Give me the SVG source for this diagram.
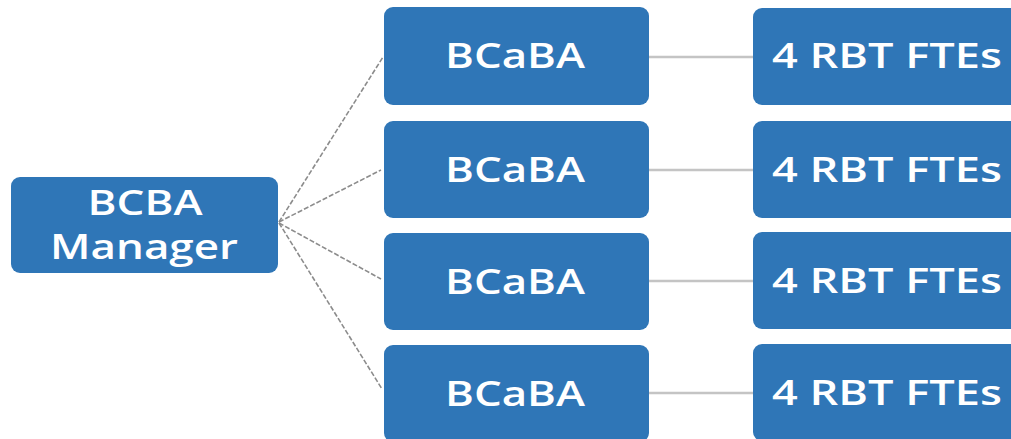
<svg xmlns="http://www.w3.org/2000/svg" width="1011" height="439" viewBox="0 0 1011 439">
<style>
.box{fill:#2F76B7;}
.t{font-family:"Open Sans","Liberation Sans",sans-serif;font-size:35px;font-weight:600;fill:#ffffff;text-anchor:middle;}
.dash{stroke:#8c8c8c;stroke-width:1.6;stroke-dasharray:5 2;fill:none;}
.solid{stroke:#c4c4c4;stroke-width:2.5;fill:none;}
</style>
<rect width="1011" height="439" fill="#ffffff"/>
<g id="connectors">
<line class="dash" x1="279" y1="222" x2="383" y2="57"/>
<line class="dash" x1="279" y1="222" x2="381" y2="170"/>
<line class="dash" x1="279" y1="223" x2="381" y2="279"/>
<line class="dash" x1="279" y1="223" x2="382" y2="389"/>
<line class="solid" x1="649" y1="57" x2="753" y2="57"/>
<line class="solid" x1="649" y1="170" x2="753" y2="170"/>
<line class="solid" x1="649" y1="281" x2="753" y2="281"/>
<line class="solid" x1="649" y1="393" x2="753" y2="393"/>
</g>
<g id="manager">
<rect class="box" x="11" y="177" width="267" height="96" rx="9"/>
<text class="t" x="145" y="215" textLength="115" lengthAdjust="spacingAndGlyphs">BCBA</text>
<text class="t" x="144" y="259" textLength="188" lengthAdjust="spacingAndGlyphs">Manager</text>
</g>
<g id="bcaba1">
<rect class="box" x="384" y="7" width="265" height="98" rx="9"/>
<text class="t" x="515" y="68" textLength="140" lengthAdjust="spacingAndGlyphs">BCaBA</text>
</g>
<g id="bcaba2">
<rect class="box" x="384" y="121" width="265" height="97" rx="9"/>
<text class="t" x="515" y="182" textLength="140" lengthAdjust="spacingAndGlyphs">BCaBA</text>
</g>
<g id="bcaba3">
<rect class="box" x="384" y="233" width="265" height="97" rx="9"/>
<text class="t" x="515" y="294" textLength="140" lengthAdjust="spacingAndGlyphs">BCaBA</text>
</g>
<g id="bcaba4">
<rect class="box" x="384" y="345" width="265" height="97" rx="9"/>
<text class="t" x="515" y="406" textLength="140" lengthAdjust="spacingAndGlyphs">BCaBA</text>
</g>
<g id="rbt1">
<rect class="box" x="753" y="8" width="268" height="97" rx="9"/>
<text class="t" x="887" y="68" textLength="230" lengthAdjust="spacingAndGlyphs">4 RBT FTEs</text>
</g>
<g id="rbt2">
<rect class="box" x="753" y="121" width="268" height="97" rx="9"/>
<text class="t" x="887" y="182" textLength="230" lengthAdjust="spacingAndGlyphs">4 RBT FTEs</text>
</g>
<g id="rbt3">
<rect class="box" x="753" y="232" width="268" height="97" rx="9"/>
<text class="t" x="887" y="293" textLength="230" lengthAdjust="spacingAndGlyphs">4 RBT FTEs</text>
</g>
<g id="rbt4">
<rect class="box" x="753" y="344" width="268" height="97" rx="9"/>
<text class="t" x="887" y="405" textLength="230" lengthAdjust="spacingAndGlyphs">4 RBT FTEs</text>
</g>
</svg>
